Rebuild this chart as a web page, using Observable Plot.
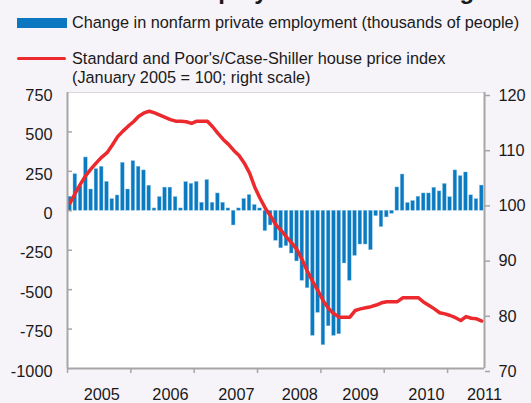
<!DOCTYPE html>
<html><head><meta charset="utf-8">
<script src="https://cdn.jsdelivr.net/npm/d3@7"></script>
<script src="https://cdn.jsdelivr.net/npm/@observablehq/plot@0.6"></script>
<style>
html,body{margin:0;padding:0;background:#f6f3f9;}
body{width:531px;height:403px;overflow:hidden;font-family:"Liberation Sans",Arial,sans-serif;color:#1a1a1a;position:relative}
#title{position:absolute;left:0;top:-21px;width:531px;text-align:center;font-weight:bold;font-size:24px;line-height:24px;white-space:nowrap;padding-left:40px;box-sizing:border-box}
#legend{position:relative;height:85px;}
.sw{position:absolute;}
.lt{position:absolute;font-size:16.3px;white-space:nowrap;}
#chart{position:relative;height:318px;}
</style></head><body>
<div id="legend">
  <div id="title">Private employment and housing</div>
  <div class="sw" style="left:17px;top:18px;width:50px;height:10px;background:#0b77c0"></div>
  <div class="lt" style="left:72px;top:13px;line-height:18px">Change in nonfarm private employment (thousands of people)</div>
  <div class="sw" style="left:17px;top:57px;width:49px;height:3px;background:#ec2a2e;border-radius:1.5px"></div>
  <div class="lt" style="left:72px;top:49px;line-height:19px">Standard and Poor's/Case-Shiller house price index<br>(January 2005 = 100; right scale)</div>
</div>
<div id="chart"></div>
<script>
// Monthly change in nonfarm private employment, Jan 2005 – Jul 2011 (thousands)
const employment = [
  89, 232, 155, 338, 135, 264, 279, 183, 74, 97, 304, 135,
  315, 279, 256, 159, 15, 87, 147, 147, 87, 15, 182, 171,
  183, 51, 195, 51, 110, 51, 15, -93, 15, 75, 100, 37,
  15, -129, -93, -190, -238, -224, -271, -321, -444, -491, -793, -647,
  -852, -732, -793, -783, -334, -444, -286, -214, -214, -250, -34, -103,
  -42, -19, 148, 230, 49, 62, 89, 110, 110, 146, 123, 170,
  86, 256, 220, 243, 98, 74, 160
];
// S&P/Case-Shiller house price index (Jan 2005 = 100)
const housePrice = [
  100.0, 101.8, 103.5, 105.0, 106.2, 107.3, 108.3, 109.1, 110.5, 112.0, 113.0, 113.9,
  114.7, 115.7, 116.3, 116.6, 116.3, 115.9, 115.5, 115.1, 114.8, 114.8, 114.7, 114.4,
  114.8, 114.8, 114.8, 113.8, 112.6, 111.5, 110.6, 109.5, 108.6, 107.2, 105.4, 102.8,
  100.8, 99.0, 97.6, 96.0, 95.0, 93.8, 92.7, 91.5, 89.6, 87.5, 85.7, 84.0,
  82.2, 80.8, 79.9, 79.3, 79.3, 79.3, 80.5, 80.8, 81.0, 81.2, 81.5, 81.9,
  82.1, 82.1, 82.1, 82.8, 82.8, 82.8, 82.8, 82.0, 81.4, 80.8, 80.1, 79.9,
  79.6, 79.2, 78.7, 79.4, 79.1, 79.0, 78.6
];
const years = ["2005", "2006", "2007", "2008", "2009", "2010", "2011"];
const yearStartMonth = [0, 12, 24, 36, 48, 60, 72];
const yearLabelMonth = [6.5, 19.5, 32, 44, 55.5, 68, 79];
const leftTicks = [-1000, -750, -500, -250, 0, 250, 500, 750];
const rightTicks = [70, 80, 90, 100, 110, 120];

const nMonths = employment.length;
const toLeft = v => -1000 + (v - 70) * 35;
const fromLeft = d => Math.round((d + 1000) / 35 + 70);
const empData = employment.map((v, i) => ({i, v}));
const hpData = housePrice.map((v, i) => ({i, v}));
const axisColor = "#a6a6a6";
const fs = 16.3;

const chart = Plot.plot({
  width: 531, height: 318,
  marginTop: 7, marginBottom: 35, marginLeft: 67, marginRight: 47,
  style: {background: "transparent", fontFamily: "'Liberation Sans', Arial, sans-serif", fontSize: fs + "px", color: "#1a1a1a", overflow: "visible"},
  x: {domain: [0, nMonths], label: null},
  y: {domain: [leftTicks[0], leftTicks[leftTicks.length - 1]], label: null},
  marks: [
    Plot.frame({fill: "white", stroke: "#d9d9d9"}),
    Plot.rectY(empData, {x1: "i", x2: d => d.i + 1, y: "v", fill: "#0b7bc1", stroke: "#8cc4e8", strokeWidth: 0.4, insetLeft: 0.7, insetRight: 0.9}),
    Plot.lineY(hpData, {x: d => d.i + 0.5, y: d => toLeft(d.v), stroke: "#ec2a2e", strokeWidth: 3.5, strokeLinejoin: "round"}),
    Plot.ruleY(leftTicks.slice(1, -1), {x1: 0, x2: 0.95, stroke: axisColor, strokeWidth: 1.5}),
    Plot.ruleX([0, nMonths], {stroke: axisColor, strokeWidth: 2}),
    Plot.ruleY([leftTicks[0]], {stroke: axisColor, strokeWidth: 2}),
    Plot.axisY(leftTicks, {anchor: "left", label: null, tickSize: 0, tickPadding: 15, dy: 3, fontSize: fs, tickFormat: d => String(d)}),
    Plot.axisY(rightTicks.map(toLeft), {anchor: "right", label: null, tickSize: 5, tickPadding: 9, dy: 3, fontSize: fs, stroke: axisColor, strokeWidth: 1.5, tickFormat: d => String(fromLeft(d))}),
    Plot.axisX(yearStartMonth, {anchor: "bottom", label: null, tickSize: 5, stroke: axisColor, strokeWidth: 1.5, tickFormat: () => ""}),
    Plot.axisX(yearLabelMonth, {anchor: "bottom", label: null, tickSize: 0, tickPadding: 20, fontSize: fs, tickFormat: d => years[yearLabelMonth.indexOf(d)]})
  ]
});
document.getElementById("chart").appendChild(chart);
</script>
</body></html>
